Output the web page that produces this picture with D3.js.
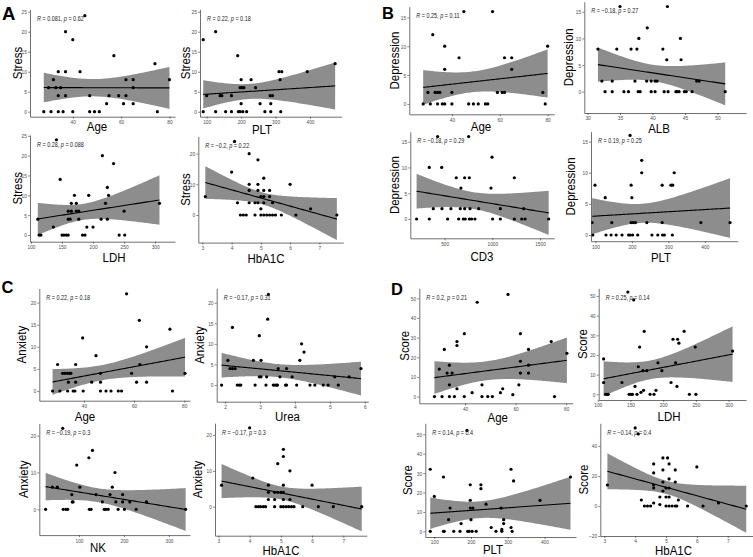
<!DOCTYPE html>
<html><head><meta charset="utf-8">
<script src="https://cdn.jsdelivr.net/npm/d3@7"></script>
<style>body{margin:0;background:#fff;}svg{display:block;font-family:"Liberation Sans",Arial,Helvetica,sans-serif;}</style>
</head><body>
<svg id="c" width="753" height="557"></svg>
<script>
// ---------------- DATA ----------------
// A: Stress
const A1_age = [28,30,31,32,33,34,34,34,35,36,37,37,37,40,40,43,45,47,47,49,51,54,55,57,59,61,62,62,65,65,65,74,75,80];
const A1_stress = [0,6,0,8,6,10,4,0,6,0,4,10,20,0,18,10,24,0,4,0,0,2,4,14,4,2,4,8,6,8,2,12,0,8];
const A2_plt = [90,90,100,126,126,139,144,155,172,172,190,192,197,200,197,202,200,205,208,216,229,242,255,269,284,286,286,291,313,310,318,315,392,473];
const A2_stress = [18,0,4,20,0,4,4,0,0,4,14,0,0,8,6,6,2,0,6,0,8,6,2,0,4,2,0,4,8,10,10,0,10,12];
const A3_ldh = [111,113,116,136,147,141,150,153,157,160,160,163,160,165,165,173,170,173,177,177,183,187,190,193,200,213,215,220,223,223,225,233,242,250,251,307];
const A3_stress = [4,0,0,2,14,24,0,0,0,0,4,4,6,6,8,8,10,6,6,4,0,0,2,10,2,4,20,8,4,12,10,18,0,6,0,8];
const A4_hba1c = [3.1,4.0,4.1,4.2,4.3,4.4,4.5,4.6,4.6,4.6,4.6,4.8,4.8,4.9,4.9,4.9,4.9,5.0,5.0,5.1,5.1,5.1,5.1,5.0,5.1,5.2,5.3,5.4,5.5,5.3,5.3,5.4,5.7,6.0,6.2,6.7,7.6];
const A4_stress = [6,14,24,4,0,0,0,20,10,8,4,0,4,18,10,8,4,2,6,12,8,6,4,0,0,0,0,0,0,8,6,4,0,10,0,2,0];
// B: Depression
const B1_age = [28,30,31,32,33,34,35,34,36,37,37,37,40,40,43,45,47,49,51,54,55,57,59,61,62,62,65,65,78,79,80];
const B1_dep = [0,2,0,12,2,2,2,0,0,0,10,6,2,0,8,16,0,0,0,0,0,16,2,2,2,8,8,6,2,0,10];
const B2_alb = [31.6,32.2,32.7,33.8,33.8,34.5,35,35.6,36.3,36.7,37.3,37.6,37.8,38.1,37.9,39.2,39.1,39.8,40.4,40.7,39.8,40.4,41.6,41.8,42.2,42.3,42.4,43.6,43.8,44.1,44.9,45.2,44.3,44.4,46.1,46.8,47.2,51.2];
const B2_dep = [8,2,0,2,0,8,16,0,0,8,2,8,0,0,10,12,2,2,2,2,0,0,8,0,6,16,0,0,0,0,0,0,10,6,0,2,2,0];
const B3_cd3 = [206,339,339,381,427,469,472,531,566,622,647,664,671,710,710,696,717,752,759,766,759,783,818,857,986,997,1003,1084,1084,1231,1231,1308,1343,1329,1591];
const B3_dep = [0,0,10,2,16,10,2,0,2,8,0,2,6,8,2,0,0,16,8,2,0,0,0,2,6,12,0,2,0,8,0,0,0,2,0];
const B4_plt = [91,93,99,127,129,143,145,157,173,191,195,198,200,198,204,210,195,202,216,227,227,241,255,271,284,289,311,283,283,307,312,316,389,469];
const B4_dep = [2,0,8,6,0,0,2,0,0,0,16,8,6,2,2,2,0,0,0,12,10,2,0,0,0,0,0,8,2,8,8,10,2,2];
// C: Anxiety
const C1_age = [27.5,29.5,30.4,31.5,32.4,33.4,34.2,34.8,33.8,33.5,35.7,36.4,36.7,36.7,39.5,39.7,43.1,44.8,46.6,46.6,46.6,48.8,50.8,53.7,55,57,59,61,62.1,62.3,65,65,74.3,75.3,80.3];
const C1_anx = [0,6,0,4,4,4,4,4,2,0,0,0,6,2,12,0,2,8,4,2,0,0,0,0,0,22,4,2,16,6,10,2,14,0,4];
const C2_urea = [1.9,2.08,2.21,2.14,2.21,2.29,2.35,2.41,2.45,2.81,2.86,2.98,2.98,3.03,3.03,3.17,3.19,3.24,3.22,3.38,3.43,3.48,3.5,3.52,3.57,3.73,3.76,3.76,3.92,4.05,4.14,4.19,4.26,4.43,4.57,4.81,4.95,5.14,5.24,5.55,5.89];
const C2_anx = [0,6,14,4,4,4,0,0,0,6,0,12,2,2,6,0,2,22,16,0,0,0,0,4,2,0,0,4,2,0,6,10,8,0,0,0,0,2,0,2,4];
const C3_nk = [26,41,52,64,65,71,75,84,85,87,95,102,122,123,127,130,138,152,156,160,165,169,174,180,182,187,197,197,201,213,227,250,337];
const C3_anx = [0,6,6,22,0,0,0,4,2,2,12,6,14,0,0,16,4,2,0,0,0,4,6,10,2,0,4,2,0,2,0,2,0];
const C4_hba1c = [3.1,4.1,4.0,4.2,4.28,4.35,4.44,4.51,4.6,4.6,4.6,4.8,4.8,4.8,4.9,4.9,5.0,5.08,5.08,5.08,5.08,5.08,5.0,5.08,5.17,5.25,5.34,5.42,5.29,5.29,5.7,6.0,6.2,6.68,7.59];
const C4_anx = [6,8,22,0,0,0,0,0,6,4,2,4,2,0,12,4,4,16,14,6,4,2,0,0,0,0,0,0,10,2,0,6,0,0,0];
// D: Score
const D1_age = [27.9,29.8,30.9,31.8,32.9,33.8,33.8,33.8,34.9,35.8,36.8,36.8,36.8,39.7,39.7,42.8,44.8,46.7,46.7,49,50.8,54,54.9,57,58.9,61.3,61.9,61.9,61.9,65.1,65.1,65.1,74.1,75.4,80.3];
const D1_score = [0,14,0,24,12,16,6,0,12,0,4,28,26,32,0,2,48,6,0,0,0,2,4,52,1,6,32,18,12,24,16,12,28,0,22];
const D2_ldh = [109,109,112,114,116,137,146,155,148,151,153,157,160,162,164,166,169,170,171,175,180,186,189,192,198,212,215,219,221,222,224,232,240,249,250,306];
const D2_score = [18,6,0,0,0,6,52,48,0,0,0,4,0,14,24,1,12,2,32,12,0,0,2,16,12,6,28,16,4,28,26,32,0,24,0,22];
const D3_plt = [89,89,100,125,125,127,139,143,153,170,173,189,191,195,198,198,198,205,200,203,214,227,227,241,255,268,282,284,284,289,289,309,309,312,316,388,471];
const D3_score = [32,0,18,28,0,0,6,12,0,0,4,52,0,0,24,16,12,12,6,0,0,24,22,14,2,0,12,1,0,6,4,32,2,0,26,16,28];
const D4_hba1c = [3.1,4.0,4.1,4.2,4.3,4.4,4.5,4.6,4.6,4.6,4.6,4.6,4.8,4.8,4.9,4.9,4.9,4.9,5.0,5.0,5.05,5.1,5.1,5.1,5.1,5.0,5.1,5.2,5.3,5.35,5.3,5.3,5.4,5.7,6.0,6.2,6.7,7.6];
const D4_score = [14,52,48,4,0,0,0,28,22,12,14,2,6,1,32,24,16,10,12,6,32,28,18,12,6,0,0,0,0,0,24,16,4,0,26,0,2,0];

// axis tick values
const ticksAge = [40,60,80];
const ticksPLT = [100,200,300,400];
const ticksLDH = [100,150,200,250,300];
const ticksHbA1C = [3,4,5,6,7];
const ticksALB = [30,35,40,45,50];
const ticksCD3 = [500,1000,1500];
const ticksUrea = [2,3,4,5,6];
const ticksNK = [100,200,300];
const ticks0to25 = [0,5,10,15,20,25];
const ticks0to20by10 = [0,10,20];
const ticks0to15 = [0,5,10,15];
const ticks0to20 = [0,5,10,15,20];
const ticksScore = [0,10,20,30,40,50];
const ticksScoreNeg = [-20,0,20,40];

// correlation labels
const statR = ["0.081","0.22","0.28","\u22120.2","0.25","\u22120.18","\u22120.18","0.19","0.22","\u22120.17","\u22120.19","\u22120.17","0.2","0.25","0.14","\u22120.14"];
const statP = ["0.62","0.18","0.088","0.22","0.11","0.27","0.29","0.25","0.18","0.31","0.3","0.3","0.21","0.14","0.4","0.4"];

// panel definitions (axis limits)
const panels = [
  {id:"A1",x:A1_age,y:A1_stress,xl:"Age",yl:"Stress",xd:[22.3,82.3],yd:[-1.25,25.6],xt:ticksAge,yt:ticks0to25},
  {id:"A2",x:A2_plt,y:A2_stress,xl:"PLT",yl:"Stress",xd:[80.6,492],yd:[-1.25,25.6],xt:ticksPLT,yt:ticks0to25},
  {id:"A3",x:A3_ldh,y:A3_stress,xl:"LDH",yl:"Stress",xd:[98.4,332],yd:[-1.68,25.2],xt:ticksLDH,yt:ticks0to25},
  {id:"A4",x:A4_hba1c,y:A4_stress,xl:"HbA1C",yl:"Stress",xd:[2.86,7.82],yd:[-9,25.6],xt:ticksHbA1C,yt:ticks0to20by10},
  {id:"B1",x:B1_age,y:B1_dep,xl:"Age",yl:"Depression",xd:[22.2,82.8],yd:[-1.8,16.85],xt:ticksAge,yt:ticks0to15},
  {id:"B2",x:B2_alb,y:B2_dep,xl:"ALB",yl:"Depression",xd:[29.5,54.4],yd:[-4,16.9],xt:ticksALB,yt:ticks0to15},
  {id:"B3",x:B3_cd3,y:B3_dep,xl:"CD3",yl:"Depression",xd:[140,1650],yd:[-3.75,16.9],xt:ticksCD3,yt:ticks0to15},
  {id:"B4",x:B4_plt,y:B4_dep,xl:"PLT",yl:"Depression",xd:[88,490],yd:[-1,16.6],xt:ticksPLT,yt:ticks0to15},
  {id:"C1",x:C1_age,y:C1_anx,xl:"Age",yl:"Anxiety",xd:[22.2,82.3],yd:[-2.2,23.2],xt:ticksAge,yt:ticks0to20},
  {id:"C2",x:C2_urea,y:C2_anx,xl:"Urea",yl:"Anxiety",xd:[1.76,6.1],yd:[-4.05,23.5],xt:ticksUrea,yt:ticks0to20},
  {id:"C3",x:C3_nk,y:C3_anx,xl:"NK",yl:"Anxiety",xd:[11.9,346.7],yd:[-7,23.3],xt:ticksNK,yt:ticks0to20by10},
  {id:"C4",x:C4_hba1c,y:C4_anx,xl:"HbA1C",yl:"Anxiety",xd:[2.89,7.75],yd:[-8.1,23.3],xt:ticksHbA1C,yt:ticks0to20by10},
  {id:"D1",x:D1_age,y:D1_score,xl:"Age",yl:"Score",xd:[21.9,82.6],yd:[-3.4,55.1],xt:ticksAge,yt:ticksScore},
  {id:"D2",x:D2_ldh,y:D2_score,xl:"LDH",yl:"Score",xd:[101.5,326.5],yd:[-2.9,53.9],xt:ticksLDH,yt:ticksScore},
  {id:"D3",x:D3_plt,y:D3_score,xl:"PLT",yl:"Score",xd:[75.5,486],yd:[-2.9,55.65],xt:ticksPLT,yt:ticksScore},
  {id:"D4",x:D4_hba1c,y:D4_score,xl:"HbA1C",yl:"Score",xd:[2.87,7.81],yd:[-20,55.1],xt:ticksHbA1C,yt:ticksScoreNeg}
];

// ---------------- LAYOUT ----------------
const layout = {
  A1:{l:30,r:175,t:9.3,b:116.7,yo:13,xc:97,xb:131},
  A2:{l:200,r:341.7,t:9.3,b:116.7,yo:14.5,xc:262,xb:133.5},
  A3:{l:30,r:175,t:135,b:241.7,yo:12.5,xc:114,xb:262},
  A4:{l:198.3,r:343.3,t:136.5,b:242.6,yo:13,xc:266,xb:263},
  B1:{l:409.3,r:554.3,t:6.7,b:114.3,yo:15,xc:481,xb:131},
  B2:{l:584.3,r:746,t:1.7,b:113,yo:16,xc:659,xb:133},
  B3:{l:410.3,r:554.3,t:131.9,b:238.3,yo:16,xc:482,xb:261},
  B4:{l:591,r:737.7,t:131.7,b:241.2,yo:21,xc:661,xb:261.5},
  C1:{l:39.3,r:190,t:288.5,b:400.7,yo:18,xc:85,xb:420.5},
  C2:{l:216.7,r:368.3,t:288.3,b:401.7,yo:17.5,xc:287.5,xb:421},
  C3:{l:39.3,r:190,t:423.5,b:535.1,yo:16.5,xc:98,xb:552},
  C4:{l:215,r:366.7,t:423.2,b:535.7,yo:18,xc:281,xb:555},
  D1:{l:419.3,r:572.7,t:288.3,b:403.3,yo:15,xc:497.7,xb:421.5},
  D2:{l:598.7,r:746,t:288.3,b:400,yo:16.5,xc:669,xb:421},
  D3:{l:425.3,r:576,t:423.3,b:537,yo:18.5,xc:493,xb:553.5},
  D4:{l:600.3,r:752.7,t:423.3,b:536,yo:17.5,xc:673.5,xb:555}
};
const letters = [
  {t:"A",x:2,y:20,s:18.5},{t:"B",x:382,y:18.5,s:16.5},
  {t:"C",x:1.5,y:293,s:16.5},{t:"D",x:391,y:295,s:16.5}
];

const svg = d3.select("#c");
svg.append("rect").attr("width",753).attr("height",557).attr("fill","#fff");

function fitLM(xs, ys){
  const n = xs.length, mx = d3.mean(xs), my = d3.mean(ys);
  let sxx=0, sxy=0;
  for(let i=0;i<n;i++){ sxx += (xs[i]-mx)**2; sxy += (xs[i]-mx)*(ys[i]-my); }
  const b = sxy/sxx, a = my - b*mx;
  let sse=0;
  for(let i=0;i<n;i++){ sse += (ys[i]-a-b*xs[i])**2; }
  const df = n-2, s = Math.sqrt(sse/df), z = 1.959964;
  const t = z + (z**3+z)/(4*df) + (5*z**5+16*z**3+3*z)/(96*df*df);
  return {a,b,s,n,mx,sxx,t};
}

const TK = 0.85; // condensed look of the original font
panels.forEach((p,i)=>{
  const L = layout[p.id];
  const g = svg.append("g");
  const x = d3.scaleLinear().domain(p.xd).range([L.l, L.r]);
  const y = d3.scaleLinear().domain(p.yd).range([L.b, L.t]);

  const clipId = "clip"+p.id;
  svg.append("clipPath").attr("id",clipId).append("rect")
     .attr("x",L.l).attr("y",L.t).attr("width",L.r-L.l).attr("height",L.b-L.t);
  const plot = g.append("g").attr("clip-path",`url(#${clipId})`);

  // regression + confidence band
  const f = fitLM(p.x, p.y);
  const [xmin,xmax] = d3.extent(p.x);
  const grid = d3.range(80).map(k => xmin + k*(xmax-xmin)/79).map(xv=>{
    const yh = f.a + f.b*xv;
    const se = f.s*Math.sqrt(1/f.n + (xv-f.mx)**2/f.sxx);
    return {x:xv, y:yh, lo:yh - f.t*se, hi:yh + f.t*se};
  });
  plot.append("path").datum(grid)
    .attr("d", d3.area().x(d=>x(d.x)).y0(d=>y(d.lo)).y1(d=>y(d.hi)))
    .attr("fill","#8d8d8d");
  plot.append("path").datum(grid)
    .attr("d", d3.line().x(d=>x(d.x)).y(d=>y(d.y)))
    .attr("fill","none").attr("stroke","#000").attr("stroke-width",1.1);

  // points
  plot.append("g").selectAll("circle").data(p.x.map((v,k)=>[v,p.y[k]])).join("circle")
    .attr("cx",d=>x(d[0])).attr("cy",d=>y(d[1])).attr("r",1.6).attr("fill","#000");

  // axes
  const ax = g.append("g").attr("transform",`translate(0,${L.b})`)
    .call(d3.axisBottom(x).tickValues(p.xt).tickSize(2).tickSizeOuter(0).tickPadding(1.2).tickFormat(d3.format("d")));
  const ay = g.append("g").attr("transform",`translate(${L.l},0)`)
    .call(d3.axisLeft(y).tickValues(p.yt).tickSize(2).tickSizeOuter(0).tickPadding(1.2).tickFormat(d3.format("d")));
  [ax,ay].forEach(a=>{
    a.select(".domain").attr("stroke","#333").attr("stroke-width",0.7);
    a.selectAll(".tick line").attr("stroke","#333").attr("stroke-width",0.6);
    a.selectAll(".tick text").attr("fill","#4d4d4d").attr("font-size",6)
      .attr("font-family","'Liberation Sans',Arial,sans-serif");
  });
  ax.selectAll(".tick text").attr("transform","scale(0.8,1)");
  ay.selectAll(".tick text").attr("x",-3.2/0.8).attr("transform","scale(0.8,1)");

  // axis titles
  g.append("text").attr("transform",`translate(${L.xc},${L.xb}) scale(${TK},1)`)
    .attr("text-anchor","middle").attr("font-size",13.5).attr("fill","#000").text(p.xl);
  g.append("text").attr("transform",`translate(${L.l-L.yo},${(L.t+L.b)/2}) rotate(-90) scale(${TK},1)`)
    .attr("text-anchor","middle").attr("dy","0.36em").attr("font-size",13.5).attr("fill","#000").text(p.yl);

  // correlation label
  const st = g.append("text").attr("transform",`translate(${L.l+7},${L.t+11.5}) scale(0.84,1)`)
    .attr("font-size",6.5).attr("fill","#222");
  st.append("tspan").attr("font-style","italic").text("R");
  st.append("tspan").text(" = "+statR[i]+", ");
  st.append("tspan").attr("font-style","italic").text("p");
  st.append("tspan").text(" = "+statP[i]);
});

letters.forEach(d=>{
  svg.append("text").attr("x",d.x).attr("y",d.y).attr("font-size",d.s)
    .attr("font-weight","bold").attr("fill","#000").text(d.t);
});
</script>
</body></html>
